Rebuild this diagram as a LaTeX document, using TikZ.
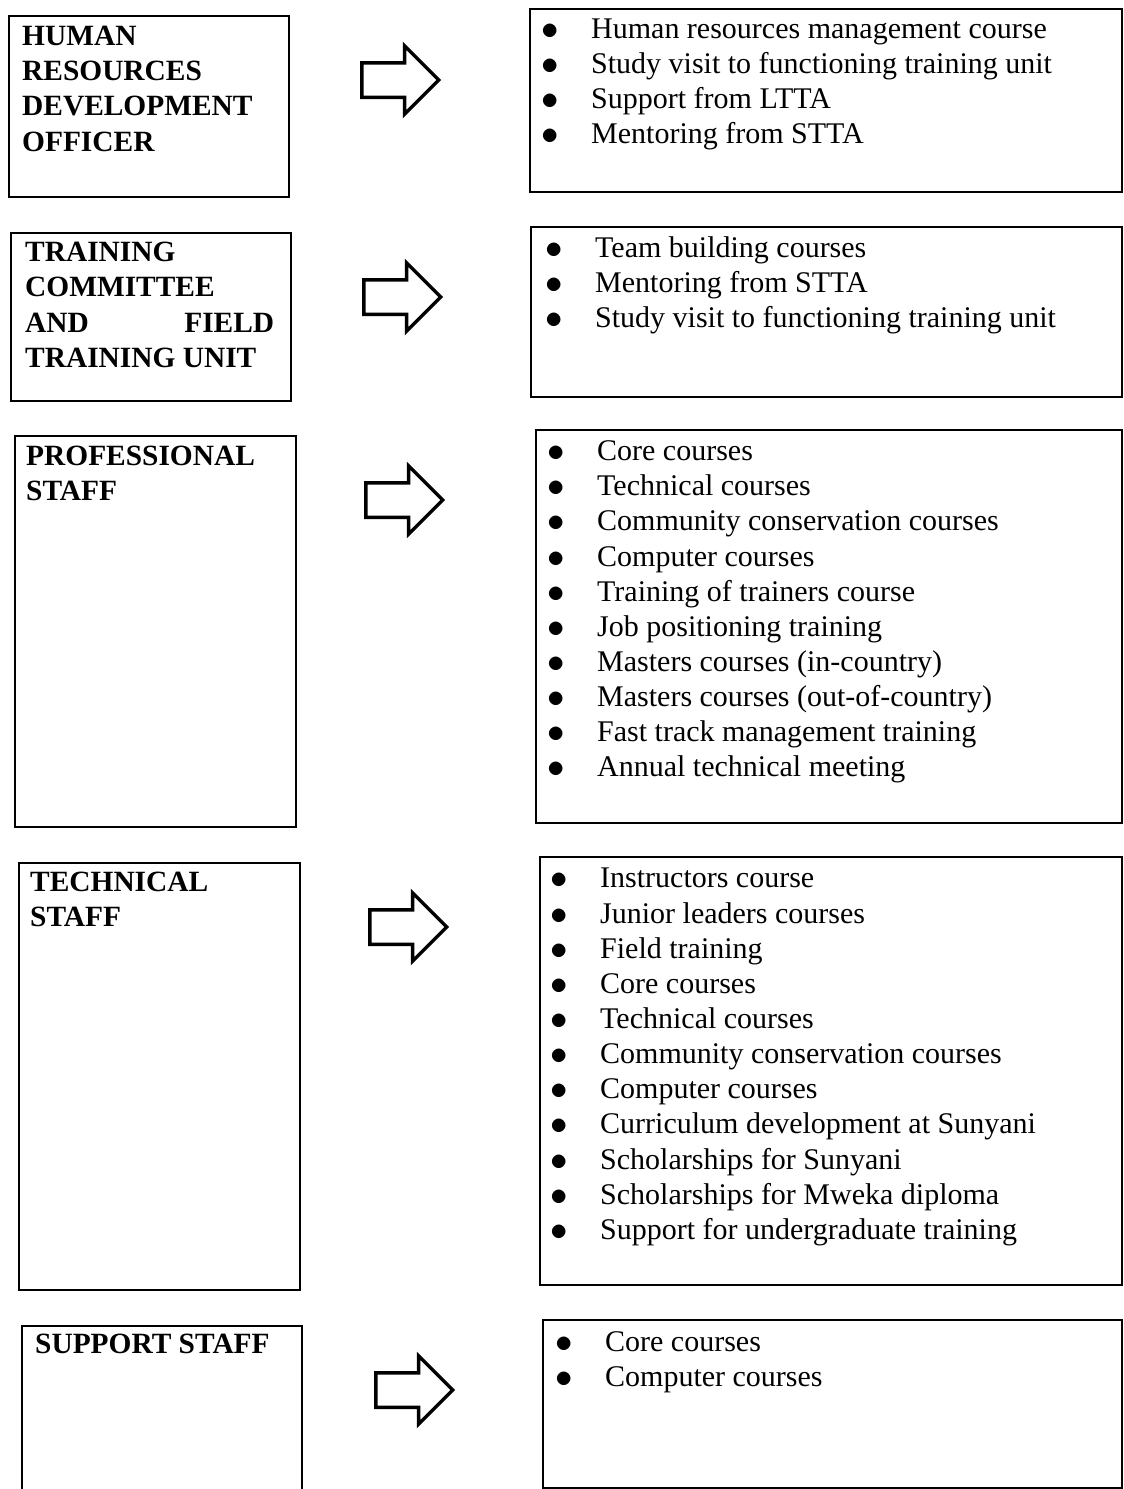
\documentclass[tikz,border=0pt]{standalone}
\usepackage{fontspec}
\setmainfont{Liberation Serif}
\usetikzlibrary{positioning,shapes.arrows}
\newcommand{\crs}[1]{\makebox[49.3pt][l]{\raisebox{-1pt}{\scalebox{1.4}{$\bullet$}}}#1}
\tikzset{
  staffbox/.style = {rectangle, draw=black, line width=2pt, inner sep=0pt,
    anchor=north west},% left box
  coursebox/.style = {staffbox},% right box, runs off the page
  stafflabel/.style = {inner sep=0pt, align=left,
    font=\fontsize{29.4}{35.3}\selectfont\bfseries},
  courselist/.style = {inner sep=0pt, align=left,
    font=\fontsize{30}{35.15}\selectfont},
  fatarrow/.style = {single arrow, draw=black, line width=3.5pt, inner xsep=0pt,
    inner ysep=15.5pt, single arrow head extend=17pt, minimum height=77pt,
    anchor=tail}
}
\begin{document}
\begin{tikzpicture}[x=1pt,y=-1pt]
  \clip (0,0) rectangle (1124,1489);
  % left column
  \node [staffbox, minimum width=280pt, minimum height=181pt] (hrdo) at (8,15) {};
  \node [staffbox, minimum width=280pt, minimum height=168pt] (tc) at (10,232) {};
  \node [staffbox, minimum width=281pt, minimum height=391pt] (prof) at (14,435) {};
  \node [staffbox, minimum width=281pt, minimum height=427pt] (tech) at (18,862) {};
  \node [staffbox, minimum width=280pt, minimum height=166pt] (supp) at (21,1325) {};
  \node [stafflabel, below right=10.5pt and 14pt of hrdo.north west] (hrdoText)
    {HUMAN\\RESOURCES\\DEVELOPMENT\\OFFICER};
  \node [stafflabel, below right=10pt and 15pt of tc.north west] (tcText)
    {TRAINING\\COMMITTEE\\\makebox[249pt][s]{AND\hfill FIELD}\\TRAINING UNIT};
  \node [stafflabel, below right=11pt and 12pt of prof.north west] (profText)
    {PROFESSIONAL\\STAFF};
  \node [stafflabel, below right=10pt and 12pt of tech.north west] (techText)
    {TECHNICAL\\STAFF};
  \node [stafflabel, below right=9pt and 14pt of supp.north west] (suppText)
    {SUPPORT STAFF};
  % arrows
  \node [fatarrow] (hrdoArrow) at (360,80) {};
  \node [fatarrow] (tcArrow) at (362,297) {};
  \node [fatarrow] (profArrow) at (364,500) {};
  \node [fatarrow] (techArrow) at (368,927) {};
  \node [fatarrow] (suppArrow) at (374,1390) {};
  % right column
  \node [coursebox, minimum width=592pt, minimum height=183pt] (hrdoList) at (529,8) {};
  \node [coursebox, minimum width=591pt, minimum height=170pt] (tcList) at (530,226) {};
  \node [coursebox, minimum width=586pt, minimum height=393pt] (profList) at (535,429) {};
  \node [coursebox, minimum width=582pt, minimum height=428pt] (techList) at (539,856) {};
  \node [coursebox, minimum width=579pt, minimum height=168pt] (suppList) at (542,1319) {};
  \node [courselist, below right=10.5pt and 12.7pt of hrdoList.north west] (hrdoItems)
    {\crs{Human resources management course}\\
     \crs{Study visit to functioning training unit}\\
     \crs{Support from LTTA}\\
     \crs{Mentoring from STTA}};
  \node [courselist, below right=10.5pt and 15.7pt of tcList.north west] (tcItems)
    {\crs{Team building courses}\\
     \crs{Mentoring from STTA}\\
     \crs{Study visit to functioning training unit}};
  \node [courselist, below right=11.5pt and 12.7pt of profList.north west] (profItems)
    {\crs{Core courses}\\
     \crs{Technical courses}\\
     \crs{Community conservation courses}\\
     \crs{Computer courses}\\
     \crs{Training of trainers course}\\
     \crs{Job positioning training}\\
     \crs{Masters courses (in-country)}\\
     \crs{Masters courses (out-of-country)}\\
     \crs{Fast track management training}\\
     \crs{Annual technical meeting}};
  \node [courselist, below right=12pt and 11.7pt of techList.north west] (techItems)
    {\crs{Instructors course}\\
     \crs{Junior leaders courses}\\
     \crs{Field training}\\
     \crs{Core courses}\\
     \crs{Technical courses}\\
     \crs{Community conservation courses}\\
     \crs{Computer courses}\\
     \crs{Curriculum development at Sunyani}\\
     \crs{Scholarships for Sunyani}\\
     \crs{Scholarships for Mweka diploma}\\
     \crs{Support for undergraduate training}};
  \node [courselist, below right=12pt and 13.7pt of suppList.north west] (suppItems)
    {\crs{Core courses}\\
     \crs{Computer courses}};
\end{tikzpicture}
\end{document}
